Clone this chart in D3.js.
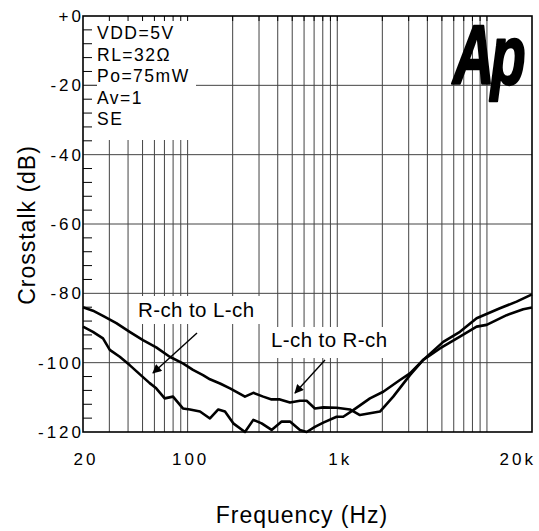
<!DOCTYPE html>
<html>
<head>
<meta charset="utf-8">
<script src="https://cdn.jsdelivr.net/npm/d3@7"></script>
<style>
  body { margin: 0; background: #fff; }
  text { font-family: "Liberation Sans", Arial, sans-serif; fill: #000; }
</style>
</head>
<body>
<svg id="chart" width="539" height="531"></svg>
<script>
// L-ch to R-ch (upper curve at low frequency)
const lrFreq = [20, 23.3, 27.2, 33.4, 41, 50.3, 61.7, 75.9, 93, 108.6, 126.7, 141, 164.6, 192, 241.7, 274.7, 320, 364, 414, 483, 563, 624, 709, 806, 990, 1215, 1417, 1928, 2365, 3058, 3752, 5104, 6598, 8531, 12210, 15780, 20000];
const lrDb = [-84.0, -85.0, -86.5, -88.6, -91.1, -93.5, -95.6, -98.3, -100.2, -102.1, -103.6, -104.8, -106.0, -107.4, -109.8, -108.7, -109.8, -110.6, -110.6, -111.5, -111.0, -111.0, -113.2, -112.9, -113.0, -113.5, -115.1, -114.1, -109.8, -103.6, -99.2, -94.0, -91.1, -87.2, -84.3, -82.4, -80.3];

// R-ch to L-ch (lower curve at low frequency)
const rlFreq = [20, 23.3, 27.2, 30.2, 35.2, 41, 47.8, 55.8, 61.7, 70.3, 79.9, 93, 103.7, 121, 141, 160.3, 177.7, 201.9, 241.7, 274.7, 312.4, 364, 425, 483, 563, 624, 709, 806, 990, 1096, 1278, 1653, 2028, 2622, 3058, 3752, 4852, 6598, 8531, 9954, 13536, 17474, 20000];
const rlDb = [-89.6, -91.1, -93.0, -96.3, -98.3, -100.7, -103.3, -105.9, -107.4, -110.3, -109.8, -113.2, -113.5, -114.1, -116.1, -113.5, -114.1, -117.5, -120, -116.5, -117.5, -119.4, -117.0, -117.0, -119.4, -120, -118.5, -117.3, -115.6, -115.6, -113.7, -110.3, -108.4, -105.0, -103.1, -99.2, -95.9, -92.5, -89.6, -89.1, -86.3, -84.6, -84.1];

const yTicks = [0, -20, -40, -60, -80, -100, -120];
const yTickLabels = ["+0", "-20", "-40", "-60", "-80", "-100", "-120"];
const xTicks = [20, 100, 1000, 20000];
const xTickLabels = ["20", "100", "1k", "20k"];
const notes = ["VDD=5V", "RL=32\u03A9", "Po=75mW", "Av=1", "SE"];

const plotL = 83, plotR = 532, plotT = 16, plotB = 432;

const xScale = d3.scaleLog().domain([20, 20000]).range([plotL, plotR]);
const yScale = d3.scaleLinear().domain([-120, 0]).range([plotB, plotT]);

const svg = d3.select("#chart");
svg.append("rect").attr("width", 539).attr("height", 531).attr("fill", "#fff");

// vertical grid: 30..90, 100..900, 1k..9k, 10k
const vGrid = [];
[10, 100, 1000, 10000].forEach(dec => {
    for (let m = 1; m <= 9; m++) {
        const f = dec * m;
        if (f > 20 && f < 20000) vGrid.push(f);
    }
});

svg.selectAll(".vgrid")
    .data(vGrid)
    .enter().append("line")
    .attr("x1", d => xScale(d)).attr("x2", d => xScale(d))
    .attr("y1", plotT).attr("y2", plotB)
    .attr("stroke", "#444").attr("stroke-width", 1);

svg.selectAll(".hgrid")
    .data(yTicks.filter(v => v > -120 && v < 0))
    .enter().append("line")
    .attr("x1", plotL).attr("x2", plotR)
    .attr("y1", d => yScale(d)).attr("y2", d => yScale(d))
    .attr("stroke", "#444").attr("stroke-width", 1);

// white backgrounds behind labels
svg.append("rect").attr("x", 97).attr("y", plotT + 1).attr("width", 99).attr("height", 123).attr("fill", "#fff");
svg.append("rect").attr("x", 132).attr("y", 296).attr("width", 130).attr("height", 28).attr("fill", "#fff");
svg.append("rect").attr("x", 263).attr("y", 327).attr("width", 129).attr("height", 31).attr("fill", "#fff");

// small ticks along the top
svg.selectAll(".ttick")
    .data(vGrid)
    .enter().append("line")
    .attr("x1", d => xScale(d)).attr("x2", d => xScale(d))
    .attr("y1", plotT).attr("y2", plotT + 5)
    .attr("stroke", "#000").attr("stroke-width", 1);

// minor ticks on the left every 4 dB
const minor = d3.range(-116, 0, 4).filter(v => v % 20 !== 0);
svg.selectAll(".ltick")
    .data(minor)
    .enter().append("line")
    .attr("x1", plotL).attr("x2", plotL + 9)
    .attr("y1", d => yScale(d)).attr("y2", d => yScale(d))
    .attr("stroke", "#000").attr("stroke-width", 1);
svg.append("line").attr("x1", plotL).attr("x2", 97)
    .attr("y1", yScale(-20)).attr("y2", yScale(-20))
    .attr("stroke", "#444").attr("stroke-width", 1);

// frame
svg.append("rect")
    .attr("x", plotL).attr("y", plotT)
    .attr("width", plotR - plotL).attr("height", plotB - plotT)
    .attr("fill", "none").attr("stroke", "#000").attr("stroke-width", 1.6);

// tick labels
svg.selectAll(".ylab")
    .data(yTicks)
    .enter().append("text")
    .attr("x", 84).attr("y", d => yScale(d) + 6)
    .attr("text-anchor", "end")
    .style("font-size", "17px").style("letter-spacing", "3px")
    .text((d, i) => yTickLabels[i]);

svg.selectAll(".xlab")
    .data(xTicks)
    .enter().append("text")
    .attr("x", (d, i) => i === xTicks.length - 1 ? 536 : xScale(d) + 3)
    .attr("y", 465)
    .attr("text-anchor", (d, i) => i === xTicks.length - 1 ? "end" : "middle")
    .style("font-size", "17px").style("letter-spacing", "3px")
    .text((d, i) => xTickLabels[i]);

// axis titles
svg.append("text")
    .attr("transform", "translate(35,225) rotate(-90)")
    .attr("text-anchor", "middle")
    .style("font-size", "23px").style("letter-spacing", "1px")
    .text("Crosstalk (dB)");
svg.append("text")
    .attr("x", 302).attr("y", 523)
    .attr("text-anchor", "middle")
    .style("font-size", "23px").style("letter-spacing", "1px")
    .text("Frequency (Hz)");

// conditions
svg.selectAll(".note")
    .data(notes)
    .enter().append("text")
    .attr("x", 97).attr("y", (d, i) => 39 + i * 21.5)
    .style("font-size", "17.5px").style("letter-spacing", "1.5px")
    .text(d => d);

// curves
const line = d3.line()
    .x(d => xScale(d[0]))
    .y(d => yScale(d[1]));

svg.append("path")
    .datum(lrFreq.map((f, i) => [f, lrDb[i]]))
    .attr("d", line)
    .attr("fill", "none").attr("stroke", "#000")
    .attr("stroke-width", 2.6).attr("stroke-linejoin", "round");

svg.append("path")
    .datum(rlFreq.map((f, i) => [f, rlDb[i]]))
    .attr("d", line)
    .attr("fill", "none").attr("stroke", "#000")
    .attr("stroke-width", 2.6).attr("stroke-linejoin", "round");

// curve labels and arrows
svg.append("text").attr("x", 138).attr("y", 317)
    .style("font-size", "20.5px").style("letter-spacing", "0.4px")
    .text("R-ch to L-ch");
svg.append("text").attr("x", 271).attr("y", 347)
    .style("font-size", "20.5px").style("letter-spacing", "0.4px")
    .text("L-ch to R-ch");

svg.append("defs").append("marker")
    .attr("id", "head")
    .attr("viewBox", "0 0 10 10")
    .attr("refX", 9).attr("refY", 5)
    .attr("markerWidth", 8).attr("markerHeight", 6.5)
    .attr("orient", "auto")
    .append("path").attr("d", "M0,0 L10,5 L0,10 Z").attr("fill", "#000");

svg.append("line")
    .attr("x1", 197).attr("y1", 333).attr("x2", 153).attr("y2", 373)
    .attr("stroke", "#000").attr("stroke-width", 1.4)
    .attr("marker-end", "url(#head)");
svg.append("line")
    .attr("x1", 325).attr("y1", 360).attr("x2", 295).attr("y2", 393)
    .attr("stroke", "#000").attr("stroke-width", 1.4)
    .attr("marker-end", "url(#head)");

// logo
svg.append("text")
    .attr("transform", "translate(453,84) scale(0.68,1)")
    .style("font-size", "84px").style("font-weight", "bold").style("font-style", "italic")
    .style("letter-spacing", "-5px")
    .attr("stroke", "#000").attr("stroke-width", 2.5).attr("stroke-linejoin", "round")
    .text("Ap");
</script>
</body>
</html>
